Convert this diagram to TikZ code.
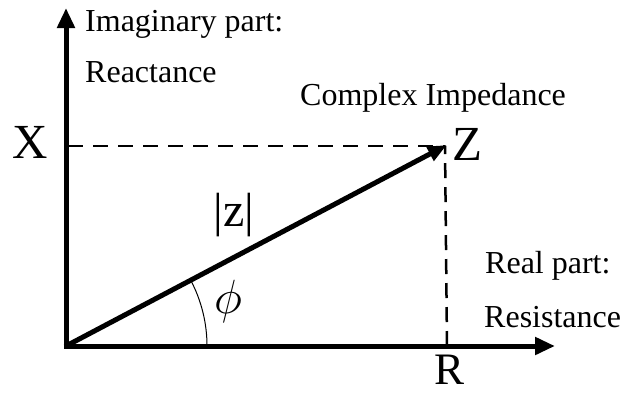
\RequirePackage{fix-cm}
\documentclass[tikz,border=0pt]{standalone}
\usepackage{fontspec}
\setmainfont{Liberation Serif}
\usetikzlibrary{arrows.meta}
\begin{document}
\begin{tikzpicture}[x=1pt,y=-1pt,
  axis/.style={line width=5pt,-{Triangle[length=20pt,width=17pt]}},
  vec/.style={line width=5pt,-{Triangle[length=19pt,width=15pt]}},
  guide/.style={line width=2.5pt,dash pattern=on 15pt off 10pt},
  lbl/.style={font=\fontsize{32}{36}\selectfont,inner sep=0pt},
  big/.style={font=\fontsize{49}{56}\selectfont,inner sep=0pt}]
\useasboundingbox (0,0) rectangle (623,394);
\coordinate (O) at (66,346);
\coordinate (Ytop) at (66,8);
\coordinate (Xend) at (555,346);
\coordinate (Z) at (445,146);
\coordinate (Zx) at (68,146);
\coordinate (Rx) at (447,346);
\draw[guide] (Zx) -- (Z);
\draw[guide,dash pattern=on 15pt off 9pt] (Rx) -- (Z);
\draw[line width=1pt] ([shift={(0:141)}]O) arc[start angle=0,end angle=-27.9,radius=141];
\draw[axis] ([yshift=2.5pt]O) -- (Ytop);
\draw[axis] ([xshift=-2.5pt]O) -- (Xend);
\draw[vec,shorten >=-2pt] (O) -- (Z);
\node[lbl,anchor=base west] (im) at (85,31) {Imaginary part:};
\node[lbl,anchor=base west] (re) at (85,82) {Reactance};
\node[lbl,anchor=base west] (ci) at (300,105) {Complex Impedance};
\node[lbl,anchor=base west] (rp) at (485,273) {Real part:};
\node[lbl,anchor=base west] (rs) at (484,327) {Resistance};
\node[big,anchor=base] (X) at (30,158) {X};
\node[big,anchor=base west] (Zl) at (452,160) {Z};
\node[font=\fontsize{45}{50}\selectfont,inner sep=0pt,anchor=base] (R) at (449,384) {R};
\node[font=\fontsize{48}{52}\selectfont,inner sep=0pt,anchor=base] (mz) at (234,226) {|z|};
\node[font=\fontsize{48}{52}\selectfont,inner sep=0pt,anchor=base] (phi) at (228,313) {$\phi$};
\end{tikzpicture}
\end{document}
